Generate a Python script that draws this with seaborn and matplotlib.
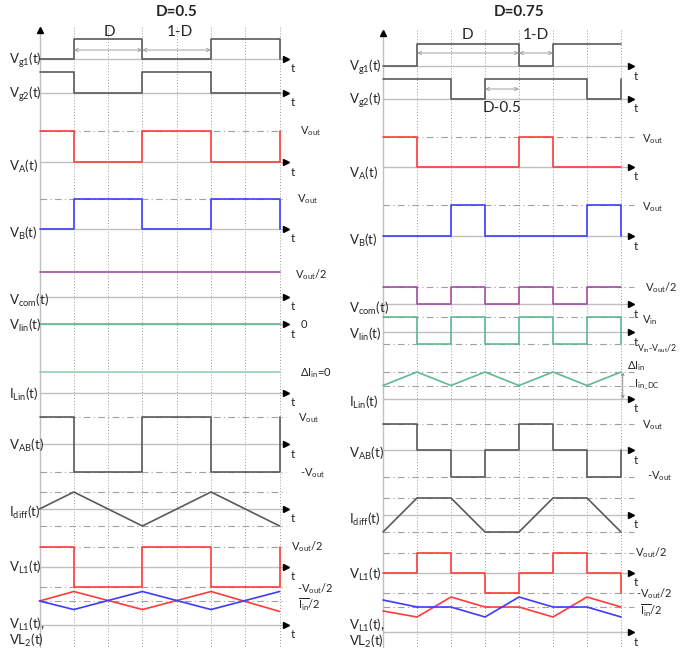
import numpy as np
import matplotlib
matplotlib.use("Agg")
import matplotlib.pyplot as plt
import seaborn as sns

sns.set_style("white")
plt.rcParams['font.family'] = ['Lato', 'DejaVu Sans']
plt.rcParams['mathtext.fontset'] = 'custom'
plt.rcParams['mathtext.rm'] = 'Lato'
plt.rcParams['mathtext.it'] = 'Lato:italic'
plt.rcParams['mathtext.bf'] = 'Lato:bold'

# time in quarter periods, one value per switching instant (steps-post)
t = np.arange(8)

# ---- D = 0.5 levels ----
a_vg1 = [0, 1, 1, 0, 0, 1, 1, 0]
a_vg2 = [1, 0, 0, 1, 1, 0, 0, 0]
a_va = [1, 0, 0, 1, 1, 0, 0, 1]
a_vb = [0, 1, 1, 0, 0, 1, 1, 0]
a_vcom = [1, 1, 1, 1, 1, 1, 1, 1]
a_vlin = [0, 0, 0, 0, 0, 0, 0, 0]
a_ilin = [1, 1, 1, 1, 1, 1, 1, 1]
a_vab = [1, -1, -1, 1, 1, -1, -1, 1]
a_tri_t = [0, 1, 3, 5, 7]
a_idiff = [0, 1, -1, 1, -1]
a_vl1 = [1, -1, -1, 1, 1, -1, -1, 1]
a_il1 = [0, 1, -0.9, 1, -1.1]
a_il2 = [0, -0.9, 1, -0.9, 1]

# ---- D = 0.75 levels ----
b_vg1 = [0, 1, 1, 1, 0, 1, 1, 1]
b_vg2 = [1, 1, 0, 1, 1, 1, 0, 1]
b_va = [1, 0, 0, 0, 1, 0, 0, 0]
b_vb = [0, 0, 1, 0, 0, 0, 1, 0]
b_vcom = [1, 0, 1, 0, 1, 0, 1, 1]
b_vlin = [1, -1, 1, -1, 1, -1, 1, -1]
b_ilin = [0.5, 1, 0.5, 1, 0.5, 1, 0.5, 1]
b_vab = [1, 0, -1, 0, 1, 0, -1, 0]
b_idiff = [-1, 1, 1, -1, -1, 1, 1, -1]
b_vl1 = [0, 1, 0, -1, 0, 1, 0, -1]
b_il1 = [-0.4, -1, 1, 0, 0, -1, 1, 0]
b_il2 = [0.7, 0, 0, -1, 1, 0, 0, -1]

SIG = '#5a5a5a'
RED = '#ff3b3b'
BLUE = '#3c3cff'
PURPLE = '#a64ca6'
GREEN = '#5fba8f'
GREEN2 = '#8fd3b3'
AXIS = '#c0c0c0'
REF = '#a0a0a0'
GRID = '#9a9a9a'

VOUT = r'V$_{\mathrm{out}}$'
VOUT2 = r'V$_{\mathrm{out}}$/2'
MVOUT = r'-V$_{\mathrm{out}}$'
MVOUT2 = r'-V$_{\mathrm{out}}$/2'
IIN2 = r'$\overline{\mathrm{I}_{\mathrm{in}}}$/2'

left_rows = [
    dict(label=r'V$_{\mathrm{g1}}$(t)', base=59, up=20, sig=[(t, a_vg1, SIG, 'step')]),
    dict(label=r'V$_{\mathrm{g2}}$(t)', base=93, up=21, sig=[(t, a_vg2, SIG, 'step')]),
    dict(label=r'V$_{\mathrm{A}}$(t)', base=162, up=31, ly=166, sig=[(t, a_va, RED, 'step')],
         refs=[1], anns=[(VOUT, 131, 7.6)]),
    dict(label=r'V$_{\mathrm{B}}$(t)', base=229, up=30, ly=233, sig=[(t, a_vb, BLUE, 'step')],
         refs=[1], anns=[(VOUT, 199, 7.5)]),
    dict(label=r'V$_{\mathrm{com}}$(t)', base=297, up=25, ly=300, sig=[(t, a_vcom, PURPLE, 'step')],
         anns=[(VOUT2, 275, 7.45)]),
    dict(label=r'V$_{\mathrm{lin}}$(t)', base=324, up=20, sig=[(t, a_vlin, GREEN, 'step')],
         anns=[('0', 324, 7.6)]),
    dict(label=r'I$_{\mathrm{Lin}}$(t)', base=393, up=21, ly=394, sig=[(t, a_ilin, GREEN2, 'step')],
         anns=[(r'$\Delta$I$_{\mathrm{in}}$=0', 373, 7.6)]),
    dict(label=r'V$_{\mathrm{AB}}$(t)', base=444, up=27, down=28, ly=445, sig=[(t, a_vab, SIG, 'step')],
         refs=[1, -1], anns=[(VOUT, 418, 7.55), (MVOUT, 473, 7.6)]),
    dict(label=r'I$_{\mathrm{diff}}$(t)', base=509, up=17, ly=512, sig=[(a_tri_t, a_idiff, SIG, 'line')],
         refs=[1, -1]),
    dict(label=r'V$_{\mathrm{L1}}$(t)', base=567, up=20, ly=567, sig=[(t, a_vl1, RED, 'step')],
         refs=[1, -1], anns=[(VOUT2, 547, 7.33), (MVOUT2, 589, 7.5)]),
    dict(label=r'V$_{\mathrm{L1}}$(t),', label2=r'VL$_{\mathrm{2}}$(t)', base=625, zero=601, up=9.5, ly=624,
         gap=16, sig=[(a_tri_t, a_il1, RED, 'line'), (a_tri_t, a_il2, BLUE, 'line')],
         refs=[0], anns=[(IIN2, 605, 7.55)]),
]

right_rows = [
    dict(label=r'V$_{\mathrm{g1}}$(t)', base=66, up=22, ly=67, sig=[(t, b_vg1, SIG, 'step')]),
    dict(label=r'V$_{\mathrm{g2}}$(t)', base=99, up=20, ly=100, sig=[(t, b_vg2, SIG, 'step')]),
    dict(label=r'V$_{\mathrm{A}}$(t)', base=167, up=30, ly=173, sig=[(t, b_va, RED, 'step')],
         refs=[1], anns=[(VOUT, 139, 7.62)]),
    dict(label=r'V$_{\mathrm{B}}$(t)', base=236, up=31, ly=240, sig=[(t, b_vb, BLUE, 'step')],
         refs=[1], anns=[(VOUT, 207, 7.62)]),
    dict(label=r'V$_{\mathrm{com}}$(t)', base=304, up=17, ly=308, sig=[(t, b_vcom, PURPLE, 'step')],
         refs=[1], anns=[(VOUT2, 288, 7.7)]),
    dict(label=r'V$_{\mathrm{lin}}$(t)', base=332, up=15, down=12, ly=334, sig=[(t, b_vlin, GREEN, 'step')],
         refs=[1, -1], anns=[(r'V$_{\mathrm{in}}$', 320, 7.62)],
         small=[(r'V$_{\mathrm{in}}$-V$_{\mathrm{out}}$/2', 349, 7.47)]),
    dict(label=r'I$_{\mathrm{Lin}}$(t)', base=399, up=27, ly=402, sig=[(t, b_ilin, GREEN, 'line')],
         refs=[1, 0.5], anns=[(r'$\Delta$I$_{\mathrm{in}}$', 366, 7.18),
                              (r'I$_{\mathrm{in\_DC}}$', 384, 7.38)], dc_arrow=True),
    dict(label=r'V$_{\mathrm{AB}}$(t)', base=450, up=26, down=27, ly=453, sig=[(t, b_vab, SIG, 'step')],
         refs=[1, -1], anns=[(VOUT, 425, 7.62), (MVOUT, 476, 7.76)]),
    dict(label=r'I$_{\mathrm{diff}}$(t)', base=515, up=17, ly=519, sig=[(t, b_idiff, SIG, 'line')],
         refs=[1, -1]),
    dict(label=r'V$_{\mathrm{L1}}$(t)', base=573, up=20, ly=574, sig=[(t, b_vl1, RED, 'step')],
         refs=[1, -1], anns=[(VOUT2, 553, 7.41), (MVOUT2, 594, 7.45)]),
    dict(label=r'V$_{\mathrm{L1}}$(t),', label2=r'VL$_{\mathrm{2}}$(t)', base=632, zero=607, up=10, ly=625,
         gap=16, sig=[(t, b_il1, RED, 'line'), (t, b_il2, BLUE, 'line')],
         refs=[0], anns=[(IIN2, 611, 7.56)]),
]


def to_y(row, levels):
    lv = np.asarray(levels, dtype=float)
    zero = row.get('zero', row['base'])
    up = row['up']
    down = row.get('down', up)
    return zero - np.where(lv >= 0, lv * up, lv * down)


def draw_panel(ax, rows, title, tip, ref_end, lab_x, t_x, top):
    ax.set_ylim(651, 0)
    ax.axis('off')
    # vertical axis and dotted grid
    ax.plot([0, 0], [647, top + 4], color=AXIS, lw=1.0)
    ax.plot([0], [top + 3], marker='^', color='black', ms=4.5)
    for k in range(1, 8):
        ax.plot([k, k], [top, 647], color=GRID, lw=0.7, ls=(0, (1, 2)))
    ax.text(4.0, 12, title, ha='center', va='center', fontsize=11, fontweight='bold')
    for row in rows:
        b = row['base']
        for lv in row.get('refs', []):
            yy = to_y(row, [lv])[0]
            ax.plot([0, ref_end], [yy, yy], color=REF, lw=0.8, ls=(0, (6, 3, 1, 3)))
        ax.plot([0, tip - 0.1], [b, b], color=AXIS, lw=1.0)
        ax.plot([tip - 0.1], [b], marker='>', color='black', ms=5)
        ax.text(t_x, b + 10, 't', ha='left', va='center', fontsize=8.5)
        for xs, lv, col, kind in row['sig']:
            sns.lineplot(x=np.asarray(xs, dtype=float), y=to_y(row, lv), ax=ax, color=col, lw=1.2,
                         drawstyle='steps-post' if kind == 'step' else 'default',
                         estimator=None, sort=False, legend=False)
        ax.text(lab_x, row.get('ly', b + 1), row['label'], ha='left', va='center', fontsize=9.5)
        if 'label2' in row:
            ax.text(lab_x, row.get('ly', b) + row.get('gap', 16), row['label2'],
                    ha='left', va='center', fontsize=9.5)
        for txt, yy, xx in row.get('anns', []):
            ax.text(xx, yy, txt, ha='left', va='center', fontsize=8)
        for txt, yy, xx in row.get('small', []):
            ax.text(xx, yy, txt, ha='left', va='center', fontsize=6.3)
        if row.get('dc_arrow'):
            ax.annotate('', xy=(7.05, to_y(row, [1])[0]), xytext=(7.05, b),
                        arrowprops=dict(arrowstyle='<->', color='#909090', lw=0.7,
                                        shrinkA=0, shrinkB=0, mutation_scale=5))


def span(ax, t0, t1, y):
    ax.annotate('', xy=(t0, y), xytext=(t1, y),
                arrowprops=dict(arrowstyle='<->', color='#a0a0a0', lw=0.7,
                                shrinkA=0, shrinkB=0, mutation_scale=6))


fig = plt.figure(figsize=(6.8, 6.51), dpi=100)
axl = fig.add_axes([0, 0, 0.5, 1])
axr = fig.add_axes([0.5, 0, 0.5, 1])
axl.set_xlim(-39.5 / 34.3, (340 - 39.5) / 34.3)
axr.set_xlim((340 - 383) / 34.0, (680 - 383) / 34.0)

draw_panel(axl, left_rows, 'D=0.5', 7.28, 7.18, -0.9, 7.33, 27)
draw_panel(axr, right_rows, 'D=0.75', 7.38, 7.38, -1.0, 7.38, 30)

span(axl, 1, 3, 50)
span(axl, 3, 5, 50)
axl.text(2.05, 32, 'D', ha='center', va='center', fontsize=11)
axl.text(4.1, 32, '1-D', ha='center', va='center', fontsize=11)

span(axr, 1, 4, 53)
span(axr, 4, 5, 53)
span(axr, 3, 4, 89)
axr.text(2.47, 35, 'D', ha='center', va='center', fontsize=11)
axr.text(4.5, 35, '1-D', ha='center', va='center', fontsize=11)
axr.text(3.5, 108, 'D-0.5', ha='center', va='center', fontsize=11)

fig.savefig('out.png', dpi=100, facecolor='white')
